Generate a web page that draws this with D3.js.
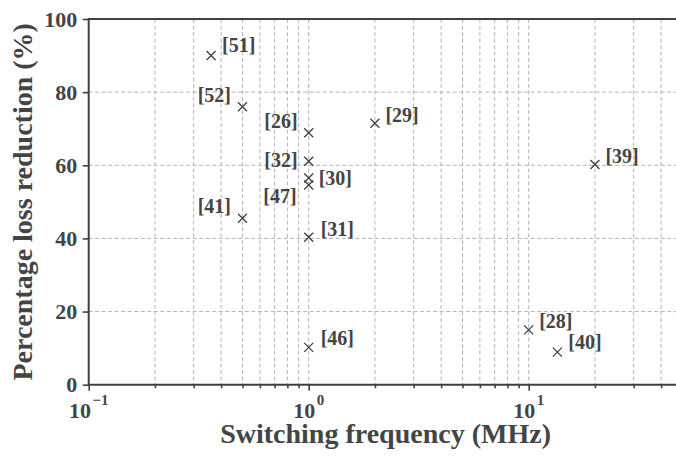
<!DOCTYPE html>
<html>
<head>
<meta charset="utf-8">
<script src="https://cdn.jsdelivr.net/npm/d3@7"></script>
<style>
  html, body { margin: 0; padding: 0; background: #fff; }
  svg { display: block; }
  text { font-family: "Liberation Serif", "DejaVu Serif", serif; font-weight: bold; fill: #444; }
</style>
</head>
<body>
<svg id="chart" width="676" height="457"></svg>
<script>
// ---- data ----
const refs = ["[51]", "[52]", "[26]", "[32]", "[30]", "[47]", "[41]", "[31]", "[46]", "[29]", "[39]", "[28]", "[40]"];
const freqMHz = [0.36, 0.5, 1, 1, 1, 1, 0.5, 1, 1, 2, 20, 10, 13.5];
const lossReduction = [90, 76, 68.9, 61.1, 56.5, 54.6, 45.5, 40.3, 10.2, 71.5, 60.2, 15, 8.9];
const yTicks = [0, 20, 40, 60, 80, 100];
const xMajorExp = [-1, 0, 1];
const xMinorTicks = [0.2, 0.3, 0.4, 0.5, 0.6, 0.7, 0.8, 0.9, 2, 3, 4, 5, 6, 7, 8, 9, 20, 30, 40];

// annotation offsets (label placement, in px, like xytext offset points)
const labelAnchor = ["start", "end", "end", "end", "start", "end", "end", "start", "start", "start", "start", "start", "start"];
const labelDx = [11, -11.5, -11, -11, 10, -12, -11.5, 12, 12, 10.5, 10.5, 10.5, 11];
const labelDy = [-3.5, -5, -4.4, 6, 7, 18, -5, -1, -2.5, -1.6, -2, -2, -3];

// ---- layout ----
const svg = d3.select("#chart");
const pL = 88.7, pT = 19, pB = 384.7;
const decade = 220;
const x = d3.scaleLog().domain([0.1, 50]).range([pL, pL + decade * Math.log10(500)]);
const y = d3.scaleLinear().domain([0, 100]).range([pB, pT]);
const axisColor = "#404040";
const gridColor = "#b4b4b4";

// grid
const grid = svg.append("g");
grid.selectAll("line.vx")
  .data(xMinorTicks.concat([1, 10]))
  .join("line")
  .attr("x1", d => x(d)).attr("x2", d => x(d))
  .attr("y1", pT).attr("y2", pB)
  .attr("stroke", gridColor).attr("stroke-width", 1).attr("stroke-dasharray", "4,2.5");
grid.selectAll("line.hy")
  .data(yTicks.filter(d => d > 0 && d < 100))
  .join("line")
  .attr("x1", pL).attr("x2", 676)
  .attr("y1", d => y(d)).attr("y2", d => y(d))
  .attr("stroke", gridColor).attr("stroke-width", 1).attr("stroke-dasharray", "4,2.5");

// axes (d3 axes for ticks)
const xAxisMajor = d3.axisBottom(x).tickValues(xMajorExp.map(e => Math.pow(10, e))).tickSize(6).tickFormat("");
const xAxisMinor = d3.axisBottom(x).tickValues(xMinorTicks).tickSize(3.5).tickFormat("");
const yAxis = d3.axisLeft(y).tickValues(yTicks).tickSize(6).tickFormat("");

const gxMin = svg.append("g").attr("transform", `translate(0,${pB})`).call(xAxisMinor);
const gxMaj = svg.append("g").attr("transform", `translate(0,${pB})`).call(xAxisMajor);
const gy = svg.append("g").attr("transform", `translate(${pL},0)`).call(yAxis);
[gxMin, gxMaj, gy].forEach(g => {
  g.select(".domain").remove();
  g.selectAll(".tick line").attr("stroke", axisColor).attr("stroke-width", 1.6);
});

// spines
svg.append("line").attr("x1", pL).attr("x2", 676).attr("y1", pT).attr("y2", pT)
  .attr("stroke", axisColor).attr("stroke-width", 2);
svg.append("line").attr("x1", pL).attr("x2", 676).attr("y1", pB).attr("y2", pB)
  .attr("stroke", axisColor).attr("stroke-width", 2);
svg.append("line").attr("x1", pL).attr("x2", pL).attr("y1", pT - 1).attr("y2", pB + 1)
  .attr("stroke", axisColor).attr("stroke-width", 2);

// y tick labels
svg.selectAll("text.ytl")
  .data(yTicks)
  .join("text")
  .attr("class", "ytl")
  .attr("x", pL - 11.5)
  .attr("y", d => y(d) + 7.5)
  .attr("text-anchor", "end")
  .attr("font-size", 22)
  .text(d => d);

// x tick labels 10^e
xMajorExp.forEach(e => {
  const t = svg.append("text")
    .attr("x", x(Math.pow(10, e)))
    .attr("y", 418)
    .attr("text-anchor", "middle")
    .attr("font-size", 22);
  t.append("tspan").text("10");
  t.append("tspan").attr("font-size", 15).attr("dy", -13).attr("dx", 1.5).text(e < 0 ? "\u2212" + Math.abs(e) : String(e));
});

// axis titles
svg.append("text")
  .attr("x", (x.range()[0] + x.range()[1]) / 2)
  .attr("y", 443)
  .attr("text-anchor", "middle")
  .attr("font-size", 28)
  .text("Switching frequency (MHz)");
svg.append("text")
  .attr("transform", `translate(32,${(pT + pB) / 2}) rotate(-90)`)
  .attr("text-anchor", "middle")
  .attr("font-size", 28)
  .text("Percentage loss reduction (%)");

// markers
const pts = refs.map((r, i) => ({ r, f: freqMHz[i], v: lossReduction[i], i }));
const s = 4.5;
const mk = svg.append("g").attr("stroke", axisColor).attr("stroke-width", 1.3);
mk.selectAll("path")
  .data(pts)
  .join("path")
  .attr("d", d => {
    const cx = x(d.f), cy = y(d.v);
    return `M${cx - s},${cy - s}L${cx + s},${cy + s}M${cx - s},${cy + s}L${cx + s},${cy - s}`;
  })
  .attr("fill", "none");

// labels
svg.selectAll("text.lbl")
  .data(pts)
  .join("text")
  .attr("class", "lbl")
  .attr("x", d => x(d.f) + labelDx[d.i])
  .attr("y", d => y(d.v) + labelDy[d.i])
  .attr("text-anchor", d => labelAnchor[d.i])
  .attr("font-size", 20)
  .text(d => d.r);
</script>
</body>
</html>
